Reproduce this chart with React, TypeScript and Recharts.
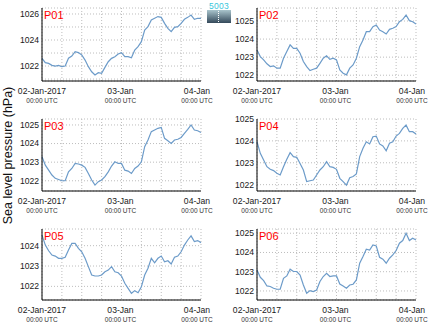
import React from "react";
import { LineChart, Line, XAxis, YAxis, CartesianGrid } from "recharts";

const HOURS = [0,1,2,3,4,5,6,7,8,9,10,11,12,13,14,15,16,17,18,19,20,21,22,23,24,25,26,27,28,29,30,31,32,33,34,35,36,37,38,39,40,41,42,43,44,45,46,47,48];
const GRID_HOURS = [0, 6, 12, 18, 24, 30, 36, 42, 48];
const DATE_LABELS: Record<number, string> = { 0: "02-Jan-2017", 24: "03-Jan", 48: "04-Jan" };
const TIME_LABEL = "00:00 UTC";
const Y_TITLE = "Sea level pressure (hPa)";

const P01 = [1022.59,1022.26,1022.2,1022.05,1022.0,1022.05,1021.95,1022.0,1022.6,1022.77,1023.1,1023.03,1022.85,1022.46,1021.95,1021.56,1021.31,1021.49,1021.44,1021.9,1022.33,1022.59,1022.72,1022.92,1023.03,1022.72,1022.72,1022.64,1023.23,1023.49,1023.87,1024.77,1025.03,1025.54,1025.67,1025.8,1025.74,1025.28,1024.9,1024.64,1024.97,1025.03,1025.28,1025.59,1025.74,1025.92,1025.59,1025.67,1025.67];
const P02 = [1023.4,1023.03,1022.85,1022.63,1022.48,1022.52,1022.39,1022.39,1022.94,1023.31,1023.68,1023.49,1023.49,1023.22,1022.76,1022.48,1022.26,1022.33,1022.39,1022.66,1022.94,1023.07,1022.88,1022.94,1022.85,1022.29,1022.11,1022.02,1022.39,1022.57,1022.94,1023.58,1023.95,1024.41,1024.41,1024.69,1024.78,1024.5,1024.41,1024.28,1024.54,1024.6,1024.69,1024.96,1025.09,1025.33,1025.02,1024.96,1024.84];
const P03 = [1023.29,1022.84,1022.57,1022.31,1022.13,1022.07,1022.0,1022.0,1022.48,1022.66,1022.93,1022.9,1022.84,1022.72,1022.39,1022.04,1021.77,1021.95,1022.04,1022.22,1022.48,1022.79,1023.02,1022.93,1022.93,1022.57,1022.52,1022.39,1022.66,1022.79,1023.02,1023.83,1024.19,1024.64,1024.73,1024.82,1024.87,1024.28,1024.15,1024.01,1024.19,1024.23,1024.33,1024.55,1024.76,1025.0,1024.73,1024.69,1024.59];
const P04 = [1023.96,1023.43,1023.13,1022.82,1022.7,1022.64,1022.52,1022.44,1022.82,1023.16,1023.46,1023.28,1023.25,1022.97,1022.67,1022.14,1022.18,1022.21,1022.44,1022.67,1022.82,1023.05,1022.82,1022.79,1022.7,1022.29,1022.14,1021.98,1022.32,1022.37,1022.49,1023.28,1023.66,1023.96,1023.86,1024.19,1024.22,1023.86,1023.77,1023.55,1023.89,1023.96,1024.22,1024.34,1024.57,1024.72,1024.42,1024.42,1024.31];
const P05 = [1024.52,1024.03,1023.75,1023.54,1023.49,1023.38,1023.38,1023.43,1023.79,1024.11,1024.11,1023.87,1023.7,1023.38,1022.97,1022.56,1022.51,1022.51,1022.56,1022.72,1022.8,1022.97,1022.72,1022.67,1022.51,1022.15,1021.9,1021.66,1021.79,1021.69,1021.98,1022.56,1022.89,1023.38,1023.16,1023.38,1023.49,1023.21,1023.26,1023.1,1023.43,1023.49,1023.7,1024.03,1024.28,1024.48,1024.2,1024.25,1024.15];
const P06 = [1023.09,1022.71,1022.54,1022.26,1022.23,1022.14,1022.09,1022.09,1022.66,1022.78,1023.13,1023.01,1023.01,1022.83,1022.31,1021.88,1022.02,1021.97,1022.05,1022.49,1022.75,1022.92,1022.75,1022.78,1022.78,1022.36,1022.26,1022.14,1022.31,1022.35,1022.57,1023.44,1023.79,1024.17,1024.13,1024.39,1024.34,1023.75,1023.65,1023.44,1023.7,1023.87,1024.1,1024.48,1024.62,1025.0,1024.62,1024.74,1024.65];

const NAMES = ["P01", "P02", "P03", "P04", "P05", "P06"];
const SERIES = [P01, P02, P03, P04, P05, P06];
const DOMAINS: [number, number][] = [
  [1020.85, 1026.46],
  [1021.68, 1025.72],
  [1021.45, 1025.32],
  [1021.71, 1025.0],
  [1021.33, 1024.82],
  [1021.53, 1025.22],
];
const GRID_TICKS = [
  [1021, 1022, 1023, 1024, 1025, 1026],
  [1022, 1023, 1024, 1025],
  [1022, 1023, 1024, 1025],
  [1022, 1023, 1024, 1025],
  [1022, 1023, 1024],
  [1022, 1023, 1024, 1025],
];
const LABEL_TICKS = [
  [1022, 1024, 1026],
  [1022, 1023, 1024, 1025],
  [1022, 1023, 1024, 1025],
  [1022, 1023, 1024, 1025],
  [1022, 1023, 1024],
  [1022, 1023, 1024, 1025],
];

const FONT = "'Liberation Sans', Arial, Helvetica, sans-serif";
const LINE_COLOR = "#6c9bc9";

const COL_LEFT = [0, 215];
const ROW_TOP = [0, 110, 220];
const ROW_MARGIN_TOP = [8, 9, 9];
const ROW_PLOT_H = [73, 72, 71];
const Y_AXIS_W = 42;
const X_AXIS_H = 28;
const PLOT_W = 159;
const RIGHT_M = 14;

function XTick(props: any) {
  const { x, y, payload } = props;
  const v = payload.value as number;
  const label = DATE_LABELS[v];
  if (!label) return null;
  const shift = v === 48 ? -4 : v === 24 ? -1 : 0;
  return (
    <g>
      <text x={x + shift} y={y + 10.5} textAnchor="middle" fontSize={8.6} fill="#1a1a1a" fontFamily={FONT}>
        {label}
      </text>
      <text x={x + shift} y={y + 19.6} textAnchor="middle" fontSize={6.5} fill="#333" fontFamily={FONT}>
        {TIME_LABEL}
      </text>
    </g>
  );
}

function makeYTick(labels: number[]) {
  return function YTick(props: any) {
    const { x, y, payload } = props;
    if (!labels.includes(payload.value)) return null;
    return (
      <text x={x} y={y} dy="0.34em" textAnchor="end" fontSize={8.6} fill="#1a1a1a" fontFamily={FONT}>
        {payload.value}
      </text>
    );
  };
}

function Panel({ idx }: { idx: number }) {
  const col = idx % 2;
  const row = Math.floor(idx / 2);
  const data = HOURS.map((t, i) => ({ t, v: SERIES[idx][i] }));
  const mt = ROW_MARGIN_TOP[row];
  const h = mt + ROW_PLOT_H[row] + X_AXIS_H;
  const w = Y_AXIS_W + PLOT_W + RIGHT_M;
  return (
    <div style={{ position: "absolute", left: COL_LEFT[col], top: ROW_TOP[row], width: w, height: h }}>
      <LineChart width={w} height={h} data={data} margin={{ top: mt, right: RIGHT_M, bottom: 0, left: 0 }}>
        <CartesianGrid stroke="#bdbdbd" strokeDasharray="1 2" />
        <XAxis
          dataKey="t"
          type="number"
          domain={[0, 48]}
          ticks={GRID_HOURS}
          interval={0}
          height={X_AXIS_H}
          tickLine={false}
          tickSize={0}
          axisLine={{ stroke: "#000", strokeWidth: 1 }}
          tick={<XTick />}
        />
        <XAxis
          xAxisId="top"
          orientation="top"
          type="number"
          domain={[0, 1]}
          height={0}
          tick={false}
          tickLine={false}
          axisLine={{ stroke: "#999", strokeWidth: 1 }}
        />
        <YAxis
          type="number"
          domain={DOMAINS[idx]}
          ticks={GRID_TICKS[idx]}
          interval={0}
          width={Y_AXIS_W}
          allowDataOverflow
          tickLine={false}
          tickSize={0}
          tickMargin={3}
          axisLine={{ stroke: "#000", strokeWidth: 1 }}
          tick={makeYTick(LABEL_TICKS[idx])}
        />
        <YAxis
          yAxisId="right"
          orientation="right"
          type="number"
          domain={[0, 1]}
          width={0}
          tick={false}
          tickLine={false}
          axisLine={{ stroke: "#666", strokeWidth: 2 }}
        />
        <Line
          type="linear"
          dataKey="v"
          stroke={LINE_COLOR}
          strokeWidth={1.2}
          dot={false}
          isAnimationActive={false}
        />
      </LineChart>
      <div
        style={{
          position: "absolute",
          left: Y_AXIS_W + 2,
          top: mt + 2,
          fontFamily: FONT,
          fontSize: 11,
          lineHeight: "11px",
          color: "#ff0000",
        }}
      >
        {NAMES[idx]}
      </div>
    </div>
  );
}

export default function App() {
  return (
    <div style={{ position: "absolute", left: 0, top: 0, width: 435, height: 327, background: "#fff", overflow: "hidden" }}>
      {NAMES.map((_, i) => (
        <Panel key={i} idx={i} />
      ))}
      <svg width={20} height={327} style={{ position: "absolute", left: 0, top: 0 }}>
        <text
          transform="translate(11.5,155.5) rotate(-90)"
          textAnchor="middle"
          fontSize={12.5}
          fill="#111"
          fontFamily={FONT}
        >
          {Y_TITLE}
        </text>
      </svg>
      <div style={{ position: "absolute", left: 207, top: 2, width: 24, height: 21 }}>
        <div style={{ fontFamily: FONT, fontSize: 8.5, lineHeight: "8px", color: "#38c6dc", textAlign: "center", letterSpacing: 0.3 }}>5003</div>
        <div
          style={{
            position: "absolute",
            left: 0,
            top: 8,
            width: 24,
            height: 13,
            background: "linear-gradient(#a9c4cc, #34495a)",
          }}
        >
          <div style={{ position: "absolute", left: 11, top: 1, width: 0, height: 11, borderLeft: "1px dotted #fff" }} />
        </div>
      </div>
    </div>
  );
}
